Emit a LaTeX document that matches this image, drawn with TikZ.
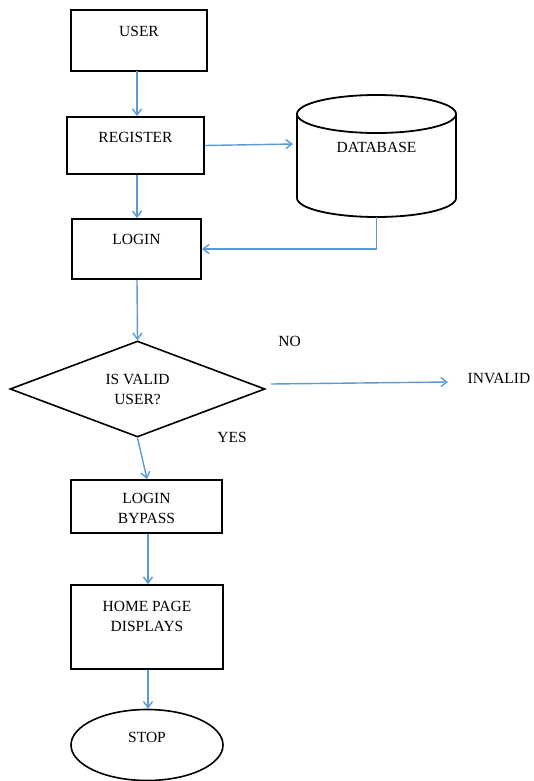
\documentclass[tikz,border=0pt]{standalone}
\usepackage{fontspec}
\setmainfont{Liberation Serif}
\usetikzlibrary{arrows.meta,shapes.geometric}
\definecolor{flowblue}{RGB}{91,155,213}
\tikzset{
  box/.style={draw=black, line width=1.8pt, rectangle, inner sep=0pt},
  lbl/.style={font=\fontsize{15.5}{20}\selectfont, inner sep=0pt, align=center},
  flow/.style={draw=flowblue, line width=1.4pt, -{Straight Barb[length=6pt,width=9pt,line width=1.4pt]}},
  outline/.style={draw=black, line width=1.8pt}
}
\begin{document}
\begin{tikzpicture}[x=1pt, y=-1pt]
\useasboundingbox (0,0) rectangle (534,781);
\fill[white] (0,0) rectangle (534,781);

% process boxes
\node[box, minimum width=136pt, minimum height=61pt] (user) at (139,40.5) {};
\node[lbl] (usert) at (139,31) {USER};

\node[box, minimum width=137pt, minimum height=57pt] (register) at (135.5,145.5) {};
\node[lbl] (registert) at (135.5,137) {REGISTER};

\node[box, minimum width=129pt, minimum height=60pt] (login) at (136.5,249) {};
\node[lbl] (logint) at (136.5,239) {LOGIN};

% database cylinder
\draw[outline] (297,114) -- (297,198) arc[start angle=180, end angle=0, x radius=79.5, y radius=19] -- (456,114);
\draw[outline] (376.5,114) ellipse [x radius=79.5, y radius=19];
\node[lbl] (dbt) at (376.5,147) {DATABASE};
\coordinate (dbin) at (293,144);
\coordinate (dbout) at (376.5,217);

% decision
\node[diamond, draw=black, line width=1.6pt, minimum width=255pt, minimum height=96pt, inner sep=0pt,
      font=\fontsize{15.5}{20}\selectfont, align=center] (valid) at (137.5,389) {IS VALID\\USER?};
\node[lbl] (invalid) at (499,378) {INVALID};
\node[lbl] (no) at (289.5,341) {NO};
\node[lbl] (yes) at (232,437) {YES};
\coordinate (invalidout) at (271,384);
\coordinate (invalidin) at (448,382);

\node[box, minimum width=151pt, minimum height=53pt] (bypass) at (146.5,506.5) {};
\node[lbl] (bypasst) at (146.5,508) {LOGIN\\BYPASS};

\node[box, minimum width=152pt, minimum height=84pt] (home) at (147,627) {};
\node[lbl] (homet) at (147,616) {HOME PAGE\\DISPLAYS};

\node[ellipse, draw=black, line width=1.6pt, minimum width=152pt, minimum height=71pt, inner sep=0pt] (stop) at (147,745) {};
\node[lbl] (stopt) at (147,737) {STOP};

% connectors
\draw[flow] (137,71) -- (register.north -| 137,0);
\draw[flow] (register.south -| 137,0) -- (login.north -| 137,0);
\draw[flow] (register.east) -- (dbin);
\draw[flow] (dbout) |- (login.east);
\draw[flow] (login.south -| 137,0) -- (valid.north);
\draw[flow] (invalidout) -- (invalidin);
\draw[flow] (valid.south) -- (bypass.north -| 147,0);
\draw[flow] (bypass.south -| 148,0) -- (home.north -| 148,0);
\draw[flow] (home.south -| 148,0) -- (stop.north -| 148,0);
\end{tikzpicture}
\end{document}
